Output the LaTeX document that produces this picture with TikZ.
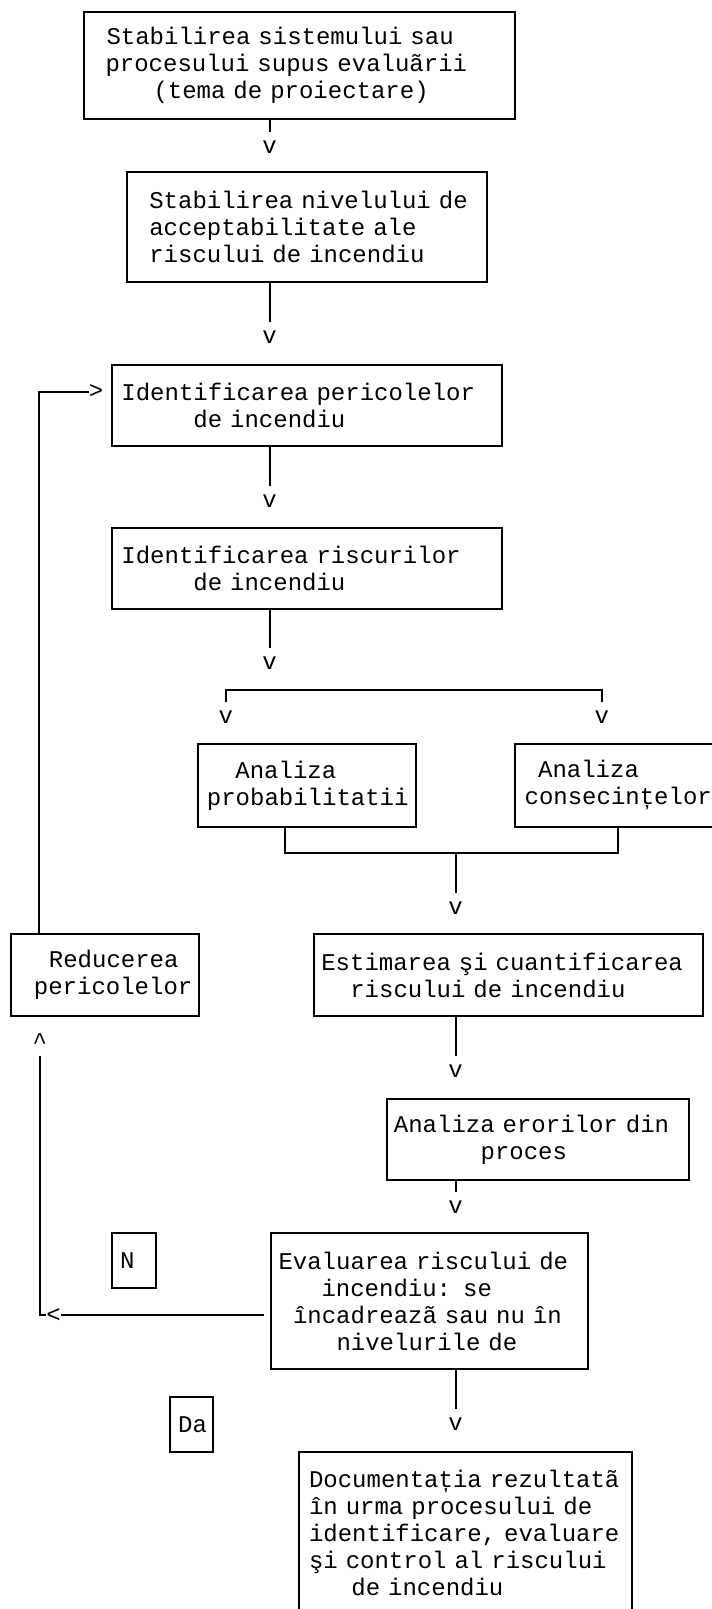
\documentclass[tikz,border=0pt]{standalone}
\usepackage{fontspec}
\setmainfont{Liberation Mono}
\usetikzlibrary{positioning}

\newcommand\ind[1]{\hspace*{#1pt}}

\tikzset{
    box/.style={draw,line width=2pt,inner sep=0pt,anchor=north west,align=left,
        font=\fontsize{24}{27}\selectfont},
    arrowch/.style={inner xsep=0pt,inner ysep=8.5pt,font=\fontsize{24}{27}\selectfont},
    conn/.style={line width=2pt},
}

\begin{document}
\begin{tikzpicture}[x=1pt,y=-1pt]
        \useasboundingbox (0,0) rectangle (712,1609);
        % boxes
        \node[box,text width=431.6pt,minimum height=107.3pt] (sist) at (82.5,10.7)
            {\ind{23}Stabilirea sistemului sau\\\ind{22}procesului supus evaluãrii\\\ind{70}(tema de proiectare)};
        \node[box,text width=360.5pt,minimum height=110pt] (nivel) at (125.8,171)
            {\ind{22.5}Stabilirea nivelului de\\\ind{22.5}acceptabilitate ale\\\ind{22.5}riscului de incendiu};
        \node[box,text width=390.3pt,minimum height=80.7pt] (peric) at (110.9,364)
            {\ind{9.5}Identificarea pericolelor\\\ind{81.5}de incendiu};
        \node[box,text width=390.3pt,minimum height=81pt] (risc) at (110.9,526.7)
            {\ind{9.5}Identificarea riscurilor\\\ind{81.5}de incendiu};
        \node[box,text width=217.3pt,minimum height=82.7pt] (prob) at (197.4,743)
            {\ind{37}Analiza\\\ind{8.5}probabilitatii};
        \node[box,text width=206pt,minimum height=82.7pt] (cons) at (514.1,743)
            {\ind{23}Analiza\\\ind{9.5}consecințelor};
        \node[box,text width=188pt,minimum height=82pt] (reduc) at (10.4,933)
            {\ind{37.5}Reducerea\\\ind{22.5}pericolelor};
        \node[box,text width=388.8pt,minimum height=82pt] (estim) at (313.3,933)
            {\ind{7}Estimarea şi cuantificarea\\\ind{36}riscului de incendiu};
        \node[box,text width=302.6pt,minimum height=81.3pt] (eror) at (385.6,1097.7)
            {\ind{7.3}Analiza erorilor din\\\ind{94}proces};
        \node[box,text width=43.5pt,minimum height=54.7pt] (nu) at (111.4,1232)
            {\ind{7.6}N};
        \node[box,text width=317.2pt,minimum height=136pt] (eval) at (269.5,1232)
            {\ind{8}Evaluarea riscului de\\\ind{51}incendiu: se\\\ind{22.5}încadreazã sau nu în\\\ind{66}nivelurile de};
        \node[box,text width=42.8pt,minimum height=55pt] (da) at (169.1,1395.7)
            {\ind{8}Da};
        \node[box,text width=332.2pt,minimum height=162pt] (doc) at (298.4,1450.7)
            {\ind{9.6}Documentația rezultatã\\\ind{9.6}în urma procesului de\\\ind{9.6}identificare, evaluare\\\ind{9.6}şi control al riscului\\\ind{52}de incendiu};
        % arrow characters
        \node[arrowch] (v1) at (269.5,147) {v};
        \node[arrowch] (v2) at (269.5,337) {v};
        \node[arrowch] (v3) at (269.5,500.7) {v};
        \node[arrowch] (v4) at (269.5,663) {v};
        \node[arrowch] (vp) at (225.7,717) {v};
        \node[arrowch] (vc) at (601.7,717) {v};
        \node[arrowch] (v5) at (455.5,908) {v};
        \node[arrowch] (v6) at (455.5,1070.7) {v};
        \node[arrowch] (v7) at (455.5,1206.7) {v};
        \node[arrowch] (v8) at (455.5,1424) {v};
        \node[arrowch,inner sep=0pt] (gt) at (96.2,391.7) {>};
        \node[arrowch,inner sep=0pt] (lt) at (53.7,1315) {<};
        \node[arrowch,inner sep=7pt,anchor=base] (up) at (39.8,1049) {\textasciicircum};
        \coordinate (split) at (414,690);
        \coordinate (join) at (455.5,852.7);
        % connectors
        \draw[conn]
            (v1 |- sist.south) -- (v1.north)
            (v2 |- nivel.south) -- (v2.north)
            (v3 |- peric.south) -- (v3.north)
            (v4 |- risc.south) -- (v4.north)
            (vp.north) |- (split) -| (vc.north)
            ([xshift=-21.6pt]prob.south) |- (join) -| ([xshift=-0.5pt]cons.south)
            (join) -- (v5.north)
            (v6 |- estim.south) -- (v6.north)
            (v7 |- eror.south) -- (v7.north)
            (v8 |- eval.south) -- (v8.north)
            ;
        \draw[conn] ([xshift=28.9pt]reduc.north west) |- (gt.west);
        \draw[conn] (up.south) |- (lt.west);
        \draw[conn,shorten >=6pt] (lt.east) -- (eval.west |- lt.east);
    \end{tikzpicture}
\end{document}
